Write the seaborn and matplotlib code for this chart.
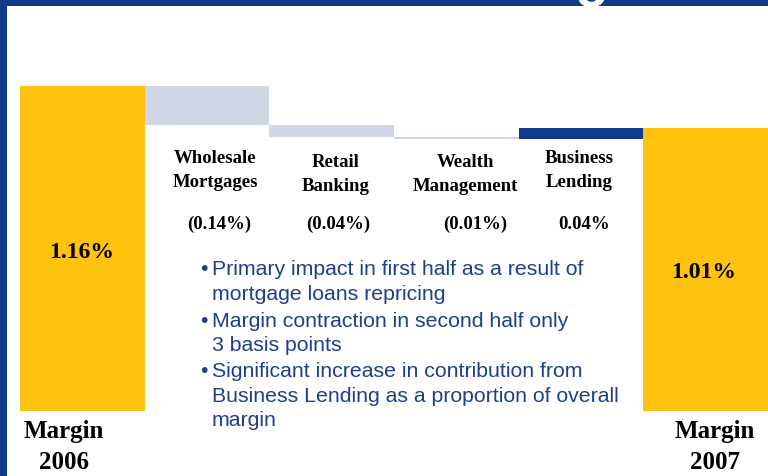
import numpy as np
import matplotlib.pyplot as plt
import seaborn as sns

sns.set_theme(style="white")
plt.rcParams['font.family'] = ['Liberation Serif', 'DejaVu Serif']
plt.rcParams['text.color'] = 'black'

# ------------------------------------------------------------
# data: margin bridge 2006 -> 2007 (%)
# ------------------------------------------------------------
steps = ["Margin 2006", "Wholesale Mortgages", "Retail Banking",
         "Wealth Management", "Business Lending", "Margin 2007"]
margin_2006 = 1.16
changes = [-0.14, -0.04, -0.01, 0.04]
margin_2007 = 1.01

seg_labels = ["Wholesale\nMortgages", "Retail\nBanking", "Wealth\nManagement", "Business\nLending"]
seg_values = ["(0.14%)", "(0.04%)", "(0.01%)", "0.04%"]
end_values = ["1.16%", "1.01%"]
end_labels = ["Margin\n2006", "Margin\n2007"]

bullets = [
    ["Primary impact in first half as a result of", "mortgage loans repricing"],
    ["Margin contraction in second half only", "3 basis points"],
    ["Significant increase in contribution from",
     "Business Lending as a proportion of overall", "margin"],
]

YELLOW = "#FFC20E"
PALE = "#CFD6E5"
NAVY = "#12398A"
TEXT_BLUE = "#1F3F8E"

# waterfall geometry
levels = margin_2006 + np.cumsum([0] + changes)
heights, bottoms, colors = [margin_2006], [0.0], [YELLOW]
for i, c in enumerate(changes):
    heights.append(abs(c))
    bottoms.append(min(levels[i], levels[i + 1]))
    colors.append(PALE if c < 0 else NAVY)
heights.append(margin_2007)
bottoms.append(0.0)
colors.append(YELLOW)

W, H = 768, 477
fig = plt.figure(figsize=(W / 100, H / 100), dpi=100)
fig.patch.set_facecolor("white")


def fx(x):
    return x / W


def fy(y):
    return 1 - y / H


# chart area: bars from x=20px to the right edge, zero line at y=412px
ax = fig.add_axes([fx(20), 0, 1 - fx(20), 1])
sns.barplot(x=steps, y=heights, bottom=bottoms, width=1.0, color=YELLOW,
            saturation=1, linewidth=0, ax=ax)
for patch, col in zip(ax.patches, colors):
    patch.set_facecolor(col)
    patch.set_edgecolor("none")
ax.set_xlim(-0.5, 5.5)
scale = 280.0
ax.set_ylim(-(H - 412) / scale, 412 / scale)
ax.axis("off")

# blue frame
fig.add_artist(plt.Rectangle((0, 0), fx(7), 1, transform=fig.transFigure, color=NAVY, lw=0))
fig.add_artist(plt.Rectangle((0, fy(7)), 1, 1, transform=fig.transFigure, color=NAVY, lw=0))
# descender of the (cut off) slide title
fig.text(fx(575), fy(-5), "g", color="white", fontsize=40, fontweight="bold",
         family=["Liberation Sans"], va="baseline", ha="left")

# segment labels
seg_x = [215, 336, 465, 579]
seg_y = [163, 167, 167, 163]
val_x = [219, 338, 475, 584]
for x, y, lab in zip(seg_x, seg_y, seg_labels):
    l1, l2 = lab.split("\n")
    fig.text(fx(x), fy(y), l1, ha="center", va="baseline", fontsize=13.5, fontweight="bold")
    fig.text(fx(x), fy(y + 24), l2, ha="center", va="baseline", fontsize=13.5, fontweight="bold")
for x, v in zip(val_x, seg_values):
    fig.text(fx(x), fy(229), v, ha="center", va="baseline", fontsize=13.5, fontweight="bold")

# start / end values
fig.text(fx(82), fy(258), end_values[0], ha="center", va="baseline", fontsize=17, fontweight="bold")
fig.text(fx(704), fy(278), end_values[1], ha="center", va="baseline", fontsize=17, fontweight="bold")
for x, lab in zip([64, 715], end_labels):
    l1, l2 = lab.split("\n")
    fig.text(fx(x), fy(438), l1, ha="center", va="baseline", fontsize=18, fontweight="bold")
    fig.text(fx(x), fy(469), l2, ha="center", va="baseline", fontsize=18, fontweight="bold")

# commentary bullets
base_y = [[275, 300], [327, 351], [377, 402, 426]]
for lines, ys in zip(bullets, base_y):
    fig.text(fx(200), fy(ys[0]), "\u2022", color=TEXT_BLUE, fontsize=15.3,
             family=["Liberation Sans"], va="baseline", ha="left")
    for line, y in zip(lines, ys):
        fig.text(fx(212), fy(y), line, color=TEXT_BLUE, fontsize=15.3,
                 family=["Liberation Sans"], va="baseline", ha="left")

fig.savefig("out.png", dpi=100, facecolor="white")
